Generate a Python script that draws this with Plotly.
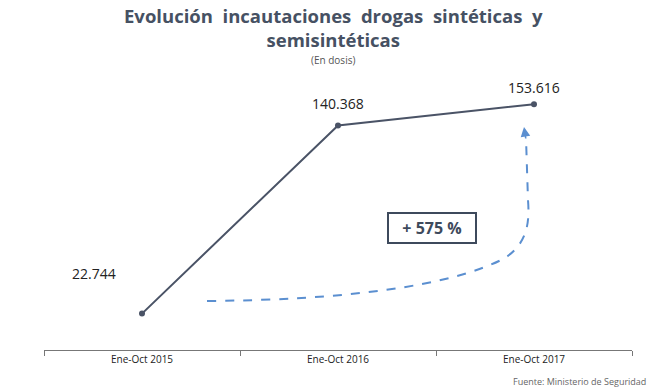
import plotly.graph_objects as go

categories = ["Ene-Oct 2015", "Ene-Oct 2016", "Ene-Oct 2017"]
values = [22744, 140368, 153616]
value_labels = ["22.744", "140.368", "153.616"]
growth_label = "+ 575 %"

W, H = 657, 391
L, R, T, B = 44, 25, 62, 41
PW, PH = W - L - R, H - T - B

def px(x):
    return (x - L) / PW

def py(y):
    return (H - B - y) / PH

line_col = "#4a5366"
blue = "#5b8fd0"
font = "Open Sans"

fig = go.Figure()
fig.add_trace(go.Scatter(
    x=categories, y=values, mode="lines+markers",
    line=dict(color=line_col, width=2),
    marker=dict(color=line_col, size=6),
    hoverinfo="skip", showlegend=False,
))

# data labels
offsets = [(-48, -40), (0, -22), (0, -17)]
for c, v, lab, (dx, dy) in zip(categories, values, value_labels, offsets):
    fig.add_annotation(x=c, y=v, text=lab, showarrow=False, xshift=dx, yshift=-dy,
                       font=dict(family=font, size=14, color="#222222"))

# dashed curved arrow
path = (f"M {px(207)},{py(301)} C {px(340)},{py(300)} {px(450)},{py(287)} {px(505)},{py(258)} "
        f"C {px(526)},{py(244)} {px(530)},{py(225)} {px(528)},{py(200)} L {px(526)},{py(138)}")
fig.add_shape(type="path", path=path, xref="paper", yref="paper",
              line=dict(color=blue, width=2, dash="dash"))
fig.add_annotation(x=px(524), y=py(127), ax=2, ay=13, xref="paper", yref="paper",
                   axref="pixel", ayref="pixel", showarrow=True, arrowhead=2, arrowsize=1.2,
                   arrowwidth=1.6, arrowcolor=blue, text="")

# growth box
fig.add_annotation(x=px(432), y=py(228), xref="paper", yref="paper", text=f"<b>{growth_label}</b>",
                   showarrow=False, font=dict(family=font, size=16, color="#3e4a5c"),
                   bordercolor="#3e4a5c", borderwidth=2, borderpad=4, bgcolor="white",
                   width=78, height=20)

# titles
title_col = "#465163"
fig.add_annotation(x=px(333), xref="paper", y=py(28), yref="paper", showarrow=False,
                   text="<b>Evolución  incautaciones  drogas  sintéticas  y</b><br><b>semisintéticas</b>",
                   font=dict(family=font, size=18.5, color=title_col), yanchor="middle", borderpad=0)
fig.add_annotation(x=px(333), xref="paper", y=py(60), yref="paper", showarrow=False,
                   text="(En dosis)",
                   font=dict(family=font, size=10, color="#555555"), yanchor="middle", borderpad=0)
fig.add_annotation(x=px(648), xref="paper", y=py(381), yref="paper",
                   showarrow=False, text="Fuente: Ministerio de Seguridad",
                   font=dict(family=font, size=9, color="#666666"),
                   xanchor="right", yanchor="middle")

fig.update_layout(
    width=W, height=H, margin=dict(l=L, r=R, t=T, b=B),
    plot_bgcolor="white", paper_bgcolor="white",
    xaxis=dict(type="category", showgrid=False, showline=True, linecolor="#777777", linewidth=1,
               ticks="outside", ticklen=5, tickcolor="#777777", tickson="boundaries",
               range=[-0.5, 2.5],
               tickfont=dict(family=font, size=10, color="#222222")),
    yaxis=dict(visible=False, range=[0, 180000]),
)

fig.write_html("out.html", config={"displayModeBar": False},
               post_script="document.body.style.margin='0';document.body.style.overflow='hidden';")
